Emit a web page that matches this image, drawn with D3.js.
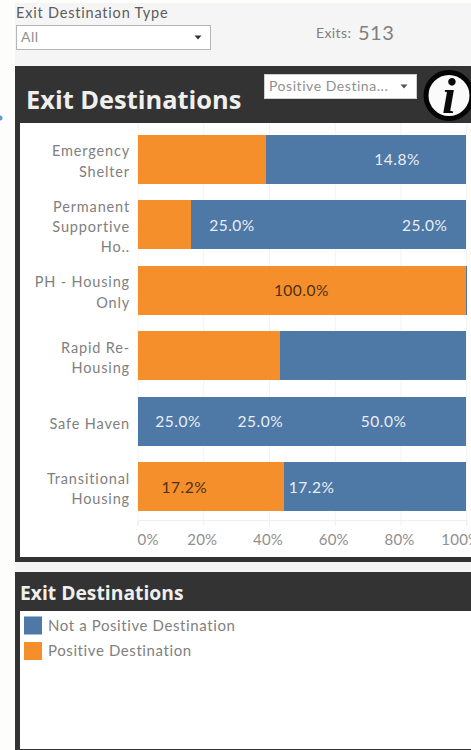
<!DOCTYPE html>
<html>
<head>
<meta charset="utf-8">
<script src="https://cdn.jsdelivr.net/npm/d3@7"></script>
<style>
  html, body { margin: 0; padding: 0; background: #fdfdfb; overflow: hidden; }
  svg { display: block; font-family: Lato, "Open Sans", sans-serif; }
</style>
</head>
<body>
<svg id="dash" width="471" height="750"></svg>
<script>
// Program types, each wrapped onto the lines shown beside its bar
const categories = ["Emergency Shelter", "Permanent Supportive Ho..", "PH - Housing Only", "Rapid Re-Housing", "Safe Haven", "Transitional Housing"];
const categoryLines = [["Emergency", "Shelter"], ["Permanent", "Supportive", "Ho.."], ["PH - Housing", "Only"], ["Rapid Re-", "Housing"], ["Safe Haven"], ["Transitional", "Housing"]];

// Share of exits per destination, stacked left to right within each program
const segmentValues = [
  [39.1, 32.6, 14.8, 13.5],
  [16.4, 25.0, 33.6, 25.0],
  [100.0, 0.35],
  [43.3, 56.7],
  [25.0, 25.0, 50.0],
  [5.8, 17.2, 21.5, 17.2, 38.3]
];
const segmentGroups = [
  ["pos", "neg", "neg", "neg"],
  ["pos", "neg", "neg", "neg"],
  ["pos", "neg"],
  ["pos", "neg"],
  ["neg", "neg", "neg"],
  ["pos", "pos", "pos", "neg", "neg"]
];
// Which segments carry a percentage label
const segmentLabelled = [
  [false, false, true, false],
  [false, true, false, true],
  [true, false],
  [false, false],
  [true, true, true],
  [false, true, false, true, false]
];

const groupKeys = ["neg", "pos"];
const groupNames = ["Not a Positive Destination", "Positive Destination"];
const groupColors = ["#4e78a6", "#f58f2c"];
const xTicks = [0, 20, 40, 60, 80, 100];
const exitsCount = "513";

const svg = d3.select("#dash");
const color = d3.scaleOrdinal(groupKeys, groupColors);
const x = d3.scaleLinear().domain([0, 100]).range([137.5, 466.3]);
const y = d3.scaleBand().domain(categories).range([134.5, 511.5]).paddingInner(0.245).paddingOuter(0);

// Page background and panels
svg.append("rect").attr("x", 15).attr("y", 3).attr("width", 456).attr("height", 747).attr("fill", "#f5f5f5");

svg.append("rect").attr("x", 15).attr("y", 66).attr("width", 456).attr("height", 496).attr("fill", "#333333");
svg.append("rect").attr("x", 20).attr("y", 123).attr("width", 451).attr("height", 434).attr("fill", "#ffffff");
svg.append("rect").attr("x", 15).attr("y", 572).attr("width", 456).attr("height", 178).attr("fill", "#333333");
svg.append("rect").attr("x", 20).attr("y", 611).attr("width", 451).attr("height", 138).attr("fill", "#ffffff");

// Pointer fragment at the left page edge
svg.append("circle").attr("cx", 0).attr("cy", 118).attr("r", 2.5).attr("fill", "#5b9ad8");

// Filter controls above the chart
const dropdown = (bx, by, w, h, label, border, arrow) => {
  svg.append("rect").attr("x", bx + 0.5).attr("y", by + 0.5).attr("width", w).attr("height", h)
    .attr("fill", "#ffffff").attr("stroke", border);
  svg.append("text").attr("x", bx + 5).attr("y", by + h / 2 + 4.5).attr("font-size", 14).attr("fill", "#8f8f8f").attr("letter-spacing", 0.55).text(label);
  const ax = bx + w - 12, ay = by + h / 2 - 1.5;
  svg.append("path").attr("d", `M${ax - 3.5},${ay}h7l-3.5,4z`).attr("fill", arrow);
};
svg.append("text").attr("x", 16).attr("y", 18).attr("font-size", 14.5).attr("fill", "#5c5c5c").attr("letter-spacing", 0.8).text("Exit Destination Type");
dropdown(16, 25, 194, 24, "All", "#b5b5b5", "#333");
svg.append("text").attr("x", 316).attr("y", 38).attr("font-size", 14).attr("fill", "#808080").attr("letter-spacing", 0.4).text("Exits:");
svg.append("text").attr("x", 358).attr("y", 39.5).attr("font-size", 20).attr("fill", "#808080").attr("letter-spacing", 0.5).text(exitsCount);

svg.append("text").attr("x", 26).attr("y", 109).attr("font-family", "'Open Sans'").attr("font-weight", 700)
  .attr("font-size", 25.4).attr("fill", "#efefef").text("Exit Destinations");
dropdown(264, 74, 152, 24, "Positive Destina...", "#cfcfcf", "#555");

// Info badge in the corner of the header
svg.append("circle").attr("cx", 449).attr("cy", 95.5).attr("r", 23).attr("fill", "#fbfbfb").attr("stroke", "#050505").attr("stroke-width", 5);
svg.append("text").attr("x", 449).attr("y", 113).attr("text-anchor", "middle").attr("font-family", "'Liberation Serif'")
  .attr("font-style", "italic").attr("font-weight", 700).attr("font-size", 50).attr("fill", "#0a0a0a").text("i");

// Value axis with gridlines running up behind the bars
const axis = svg.append("g").attr("transform", "translate(0,520)")
  .call(d3.axisBottom(x).tickValues(xTicks).tickFormat(d => d + "%").tickSize(6).tickPadding(8));
axis.select(".domain").attr("stroke", "#f0f0f0");
axis.selectAll(".tick line").attr("stroke", "#f0f0f0");
axis.selectAll(".tick").append("line").attr("y1", 0).attr("y2", -397).attr("stroke", "#f2f2f2");
axis.selectAll(".tick text")
  .attr("font-family", "Lato").attr("font-size", 15).attr("fill", "#8f8f8f").attr("letter-spacing", 0.2)
  .attr("text-anchor", d => d === 0 ? "start" : "middle")
  .attr("dx", d => d === 0 ? -0.5 : d === 100 ? -6 : -1.5);

// Stacked bars; crisp edges keep same-colored neighbours from showing a seam
const rows = svg.append("g").selectAll("g").data(categories).join("g")
  .attr("transform", c => `translate(0,${y(c)})`);

categories.forEach((c, i) => {
  let start = 0;
  const row = d3.select(rows.nodes()[i]);
  segmentValues[i].forEach((v, j) => {
    const from = start, to = start + v;
    start = to;
    row.append("rect").attr("x", x(from)).attr("y", 0)
      .attr("width", x(to) - x(from)).attr("height", y.bandwidth())
      .attr("shape-rendering", "crispEdges")
      .attr("fill", color(segmentGroups[i][j]));
    if (segmentLabelled[i][j]) {
      row.append("text").attr("x", x((from + to) / 2) - 0.5).attr("y", y.bandwidth() / 2 + 5.8)
        .attr("text-anchor", "middle").attr("font-size", 15.5).attr("letter-spacing", 0.5)
        .attr("fill", segmentGroups[i][j] === "pos" ? "#4a3215" : "#e9eef4")
        .text(v.toFixed(1) + "%");
    }
  });
  // Category label, right aligned against the plot
  const lines = categoryLines[i];
  const label = row.append("text").attr("text-anchor", "end").attr("font-size", 14.5).attr("fill", "#808080").attr("letter-spacing", 0.85);
  lines.forEach((line, k) => {
    label.append("tspan").attr("x", 130)
      .attr("y", y.bandwidth() / 2 + 7.3 + (k - (lines.length - 1) / 2) * 20.3)
      .text(line);
  });
});

// Legend panel
svg.append("text").attr("x", 20).attr("y", 599.7).attr("font-family", "'Open Sans'").attr("font-weight", 700)
  .attr("font-size", 19.3).attr("fill", "#efefef").text("Exit Destinations");
const legend = svg.append("g").selectAll("g").data(groupKeys).join("g")
  .attr("transform", (d, i) => `translate(24,${616.5 + i * 25.5})`);
legend.append("rect").attr("width", 18).attr("height", 18).attr("fill", d => color(d));
legend.append("text").attr("x", 24).attr("y", 14).attr("font-size", 15).attr("fill", "#808080").attr("letter-spacing", 0.6)
  .text((d, i) => groupNames[i]);
</script>
</body>
</html>
